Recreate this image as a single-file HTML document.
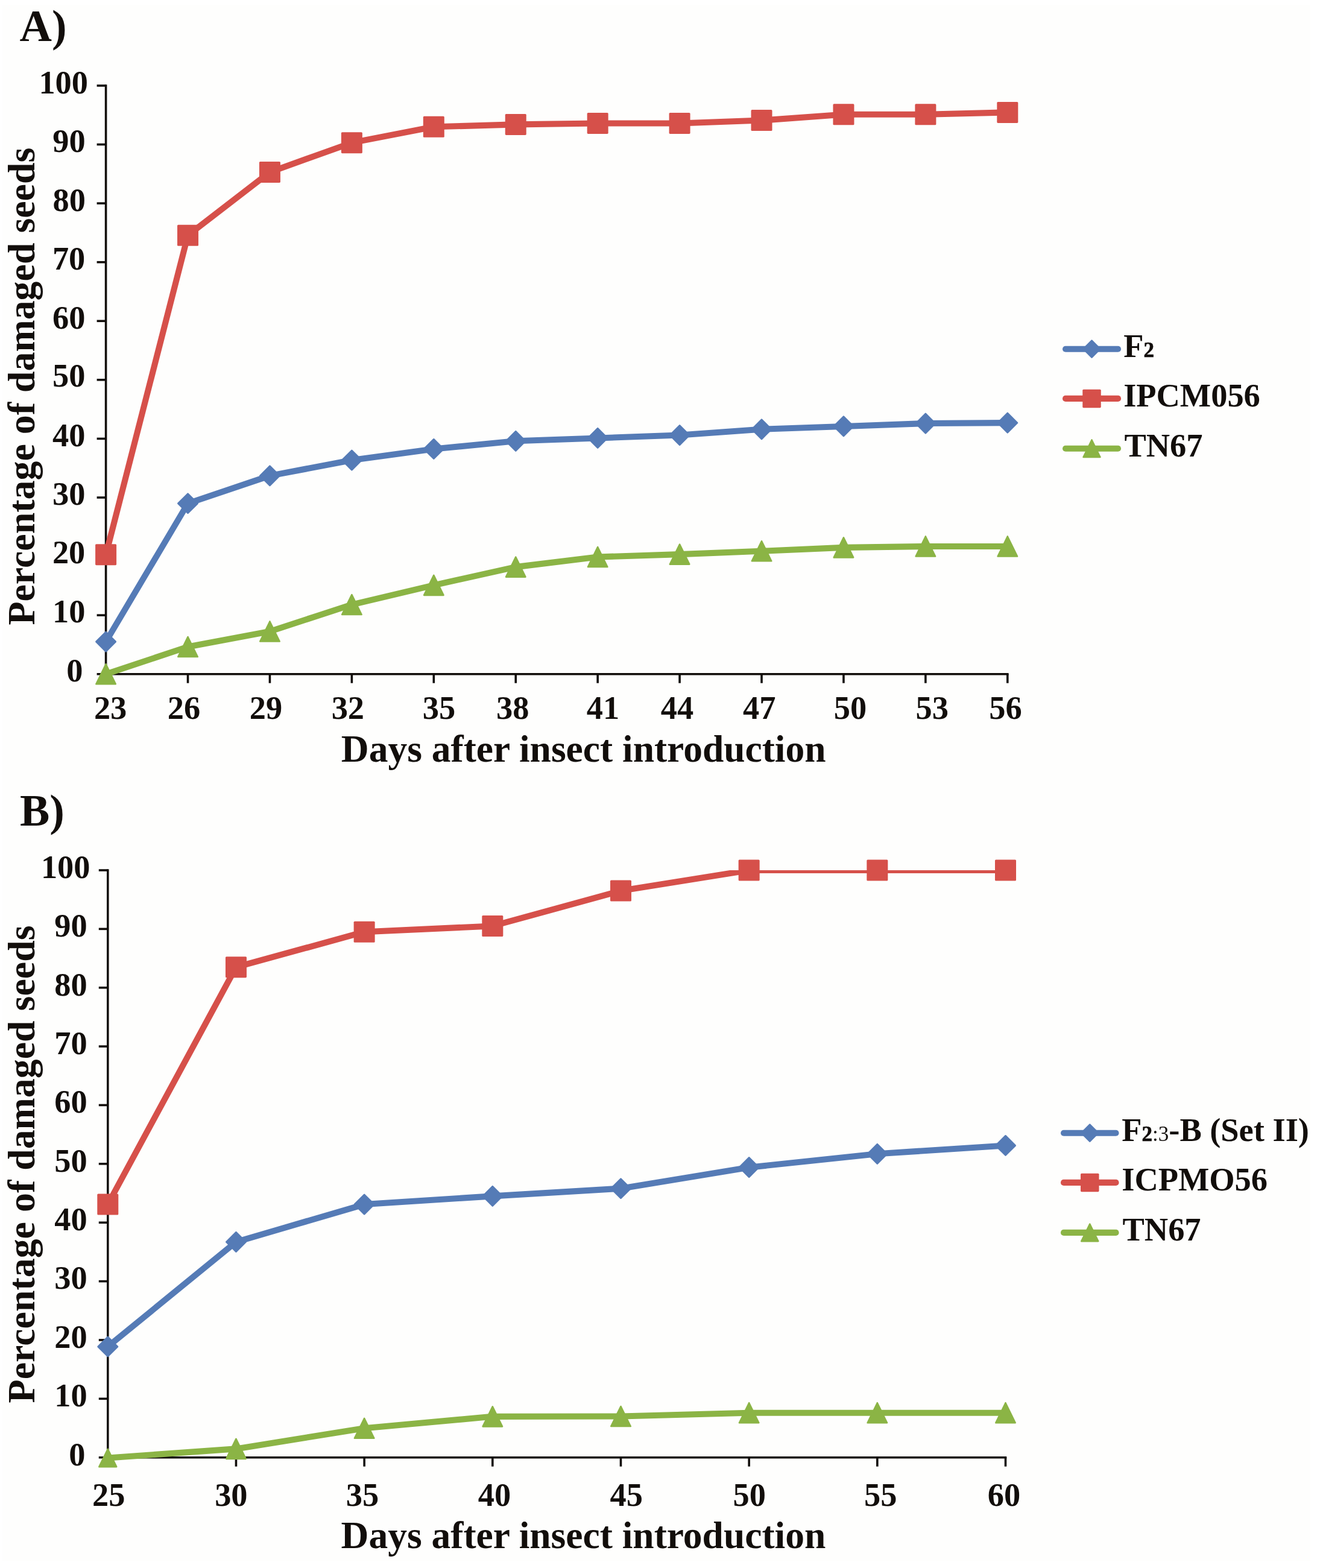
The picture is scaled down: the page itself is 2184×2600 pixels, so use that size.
<!DOCTYPE html>
<html lang="en">
<head>
<meta charset="utf-8">
<title>Percentage of damaged seeds</title>
<style>
html,body{margin:0;padding:0;background:#ffffff;}
body{width:2184px;height:2600px;overflow:hidden;}
svg{display:block;}
text{font-family:"Liberation Serif","DejaVu Serif",serif;font-weight:700;fill:#120e0b;}
.tk{font-size:54.4px;}
.ti{font-size:63.5px;}
.ty{font-size:63.9px;}
.lg{font-size:54.4px;}
.sb{font-size:35px;stroke:#120e0b;stroke-width:0.7px;stroke-linejoin:round;}
.sr{font-size:35px;font-weight:400;}
.pl{font-size:74px;}
</style>
</head>
<body>
<svg width="2184" height="2600" viewBox="0 0 2184 2600">
<rect width="2184" height="2600" fill="#ffffff"/>
<rect x="4" y="8" width="2169" height="2580" fill="#fefefd"/>
<g id="chartA">
<g stroke="#120e0b" stroke-width="3.6" fill="none" stroke-linecap="butt">
<path d="M175.6 140.2V1119.5"/>
<path d="M160.6 1117.7H1672.6"/>
<path d="M160.6 1020.13H175.6"/>
<path d="M160.6 922.56H175.6"/>
<path d="M160.6 824.99H175.6"/>
<path d="M160.6 727.42H175.6"/>
<path d="M160.6 629.85H175.6"/>
<path d="M160.6 532.28H175.6"/>
<path d="M160.6 434.71H175.6"/>
<path d="M160.6 337.14H175.6"/>
<path d="M160.6 239.57H175.6"/>
<path d="M160.6 142H175.6"/>
<path d="M311.53 1117.7V1132.7"/>
<path d="M447.45 1117.7V1132.7"/>
<path d="M583.38 1117.7V1132.7"/>
<path d="M719.31 1117.7V1132.7"/>
<path d="M855.24 1117.7V1132.7"/>
<path d="M991.16 1117.7V1132.7"/>
<path d="M1127.09 1117.7V1132.7"/>
<path d="M1263.02 1117.7V1132.7"/>
<path d="M1398.95 1117.7V1132.7"/>
<path d="M1534.87 1117.7V1132.7"/>
<path d="M1670.8 1117.7V1132.7"/>
</g>
<g class="tk" text-anchor="end">
<text x="137.5" y="1130">0</text>
<text x="141.5" y="1032.23">10</text>
<text x="141.3" y="934.26">20</text>
<text x="141.5" y="837.19">30</text>
<text x="141.5" y="739.62">40</text>
<text x="141.5" y="641.35">50</text>
<text x="141.5" y="545.28">60</text>
<text x="141.3" y="447.31">70</text>
<text x="142" y="350.14">80</text>
<text x="141.7" y="252.27">90</text>
<text x="146" y="155">100</text>
</g>
<g class="tk" text-anchor="middle">
<text x="183.1" y="1191.6">23</text>
<text x="305.03" y="1191.6">26</text>
<text x="440.95" y="1191.6">29</text>
<text x="576.88" y="1191.6">32</text>
<text x="728.01" y="1191.6">35</text>
<text x="850.24" y="1191.6">38</text>
<text x="1000.06" y="1191.6">41</text>
<text x="1122.99" y="1191.6">44</text>
<text x="1259.22" y="1191.6">47</text>
<text x="1409.95" y="1191.6">50</text>
<text x="1545.77" y="1191.6">53</text>
<text x="1667.4" y="1191.6">56</text>
</g>
<text class="ti tx" text-anchor="middle" x="967.7" y="1263">Days after insect introduction</text>
<text class="ti ty" text-anchor="middle" transform="translate(57 640.6) rotate(-90)">Percentage of damaged seeds</text>
<text class="pl" x="32.6" y="68.4">A)</text>
<clipPath id="ca"><rect x="135.6" y="142" width="1575.2" height="1035.7"/></clipPath>
<g fill="#557bb6" stroke="#557bb6" stroke-width="0">
<path d="M175.6 1064.04L311.53 834.75L447.45 788.89L583.38 763.03L719.31 744.49L855.24 731.32L991.16 726.44L1127.09 721.57L1263.02 711.81L1398.95 706.93L1534.87 702.05L1670.8 701.08" fill="none" stroke-width="10.1" stroke-linejoin="round" stroke-linecap="round" clip-path="url(#ca)"/>
<path d="M175.6 1047.84L191.8 1064.04L175.6 1080.24L159.4 1064.04Z" stroke-width="2.6" stroke-linejoin="round"/>
<path d="M311.53 818.55L327.73 834.75L311.53 850.95L295.33 834.75Z" stroke-width="2.6" stroke-linejoin="round"/>
<path d="M447.45 772.69L463.65 788.89L447.45 805.09L431.25 788.89Z" stroke-width="2.6" stroke-linejoin="round"/>
<path d="M583.38 746.83L599.58 763.03L583.38 779.23L567.18 763.03Z" stroke-width="2.6" stroke-linejoin="round"/>
<path d="M719.31 728.29L735.51 744.49L719.31 760.69L703.11 744.49Z" stroke-width="2.6" stroke-linejoin="round"/>
<path d="M855.24 715.12L871.44 731.32L855.24 747.52L839.04 731.32Z" stroke-width="2.6" stroke-linejoin="round"/>
<path d="M991.16 710.24L1007.36 726.44L991.16 742.64L974.96 726.44Z" stroke-width="2.6" stroke-linejoin="round"/>
<path d="M1127.09 705.37L1143.29 721.57L1127.09 737.77L1110.89 721.57Z" stroke-width="2.6" stroke-linejoin="round"/>
<path d="M1263.02 695.61L1279.22 711.81L1263.02 728.01L1246.82 711.81Z" stroke-width="2.6" stroke-linejoin="round"/>
<path d="M1398.95 690.73L1415.15 706.93L1398.95 723.13L1382.75 706.93Z" stroke-width="2.6" stroke-linejoin="round"/>
<path d="M1534.87 685.85L1551.07 702.05L1534.87 718.25L1518.67 702.05Z" stroke-width="2.6" stroke-linejoin="round"/>
<path d="M1670.8 684.88L1687 701.08L1670.8 717.28L1654.6 701.08Z" stroke-width="2.6" stroke-linejoin="round"/>
</g>
<g fill="#d6504a" stroke="#d6504a" stroke-width="0">
<path d="M175.6 919.63L311.53 390.32L447.45 285.43L583.38 236.64L719.31 210.3L855.24 206.4L991.16 204.44L1127.09 204.44L1263.02 199.57L1398.95 189.81L1534.87 189.81L1670.8 186.39" fill="none" stroke-width="10.1" stroke-linejoin="round" stroke-linecap="round" clip-path="url(#ca)"/>
<rect x="158.1" y="902.13" width="35" height="35" rx="1.6"/>
<rect x="294.03" y="372.82" width="35" height="35" rx="1.6"/>
<rect x="429.95" y="267.93" width="35" height="35" rx="1.6"/>
<rect x="565.88" y="219.14" width="35" height="35" rx="1.6"/>
<rect x="701.81" y="192.8" width="35" height="35" rx="1.6"/>
<rect x="837.74" y="188.9" width="35" height="35" rx="1.6"/>
<rect x="973.66" y="186.94" width="35" height="35" rx="1.6"/>
<rect x="1109.59" y="186.94" width="35" height="35" rx="1.6"/>
<rect x="1245.52" y="182.07" width="35" height="35" rx="1.6"/>
<rect x="1381.45" y="172.31" width="35" height="35" rx="1.6"/>
<rect x="1517.37" y="172.31" width="35" height="35" rx="1.6"/>
<rect x="1653.3" y="168.89" width="35" height="35" rx="1.6"/>
</g>
<g fill="#8bb445" stroke="#8bb445" stroke-width="0">
<path d="M175.6 1117.7L311.53 1072.53L447.45 1046.96L583.38 1002.57L719.31 970.37L855.24 940.12L991.16 923.54L1127.09 919.15L1263.02 913.78L1398.95 907.92L1534.87 905.97L1670.8 905.97" fill="none" stroke-width="10.1" stroke-linejoin="round" stroke-linecap="round" clip-path="url(#ca)"/>
<path d="M175.6 1101.2L191.8 1134.2H159.4Z" stroke-width="2.6" stroke-linejoin="round"/>
<path d="M311.53 1056.03L327.73 1089.03H295.33Z" stroke-width="2.6" stroke-linejoin="round"/>
<path d="M447.45 1030.46L463.65 1063.46H431.25Z" stroke-width="2.6" stroke-linejoin="round"/>
<path d="M583.38 986.07L599.58 1019.07H567.18Z" stroke-width="2.6" stroke-linejoin="round"/>
<path d="M719.31 953.87L735.51 986.87H703.11Z" stroke-width="2.6" stroke-linejoin="round"/>
<path d="M855.24 923.62L871.44 956.62H839.04Z" stroke-width="2.6" stroke-linejoin="round"/>
<path d="M991.16 907.04L1007.36 940.04H974.96Z" stroke-width="2.6" stroke-linejoin="round"/>
<path d="M1127.09 902.65L1143.29 935.65H1110.89Z" stroke-width="2.6" stroke-linejoin="round"/>
<path d="M1263.02 897.28L1279.22 930.28H1246.82Z" stroke-width="2.6" stroke-linejoin="round"/>
<path d="M1398.95 891.42L1415.15 924.42H1382.75Z" stroke-width="2.6" stroke-linejoin="round"/>
<path d="M1534.87 889.47L1551.07 922.47H1518.67Z" stroke-width="2.6" stroke-linejoin="round"/>
<path d="M1670.8 889.47L1687 922.47H1654.6Z" stroke-width="2.6" stroke-linejoin="round"/>
</g>
<g fill="#557bb6" stroke="#557bb6" stroke-width="0"><path d="M1767 578.7H1854" stroke-width="10.1" stroke-linecap="round" fill="none"/><path d="M1810.5 564.75L1824.45 578.7L1810.5 592.65L1796.55 578.7Z" stroke-width="2.6" stroke-linejoin="round"/></g>
<text class="lg" x="1863.2" y="592">F<tspan class="sb">2</tspan></text>
<g fill="#d6504a" stroke="#d6504a" stroke-width="0"><path d="M1767 660.9H1854" stroke-width="10.1" stroke-linecap="round" fill="none"/><rect x="1795.25" y="645.65" width="30.5" height="30.5" rx="1.6"/></g>
<text class="lg" x="1863.2" y="674.2">IPCM056</text>
<g fill="#8bb445" stroke="#8bb445" stroke-width="0"><path d="M1767 743.7H1854" stroke-width="10.1" stroke-linecap="round" fill="none"/><path d="M1810.5 729.45L1824.45 757.95H1796.55Z" stroke-width="2.6" stroke-linejoin="round"/></g>
<text class="lg" x="1863.2" y="757"><tspan dx="1.3">TN67</tspan></text>
</g>
<g id="chartB">
<g stroke="#120e0b" stroke-width="3.6" fill="none" stroke-linecap="butt">
<path d="M178.8 1441.2V2418.5"/>
<path d="M163.8 2416.7H1669.3"/>
<path d="M163.8 2319.33H178.8"/>
<path d="M163.8 2221.96H178.8"/>
<path d="M163.8 2124.59H178.8"/>
<path d="M163.8 2027.22H178.8"/>
<path d="M163.8 1929.85H178.8"/>
<path d="M163.8 1832.48H178.8"/>
<path d="M163.8 1735.11H178.8"/>
<path d="M163.8 1637.74H178.8"/>
<path d="M163.8 1540.37H178.8"/>
<path d="M163.8 1443H178.8"/>
<path d="M391.47 2416.7V2431.7"/>
<path d="M604.14 2416.7V2431.7"/>
<path d="M816.81 2416.7V2431.7"/>
<path d="M1029.49 2416.7V2431.7"/>
<path d="M1242.16 2416.7V2431.7"/>
<path d="M1454.83 2416.7V2431.7"/>
<path d="M1667.5 2416.7V2431.7"/>
</g>
<g class="tk" text-anchor="end">
<text x="141.5" y="2430.2">0</text>
<text x="144.7" y="2332.23">10</text>
<text x="144.7" y="2234.86">20</text>
<text x="144.7" y="2137.49">30</text>
<text x="144.7" y="2040.12">40</text>
<text x="144.7" y="1942.75">50</text>
<text x="144.7" y="1845.38">60</text>
<text x="144.7" y="1748.01">70</text>
<text x="144.7" y="1650.64">80</text>
<text x="144.7" y="1553.27">90</text>
<text x="149.5" y="1455.9">100</text>
</g>
<g class="tk" text-anchor="middle">
<text x="180.3" y="2496.7">25</text>
<text x="383.37" y="2496.7">30</text>
<text x="601.04" y="2496.7">35</text>
<text x="819.91" y="2496.7">40</text>
<text x="1038.69" y="2496.7">45</text>
<text x="1242.76" y="2496.7">50</text>
<text x="1460.23" y="2496.7">55</text>
<text x="1664.9" y="2496.7">60</text>
</g>
<text class="ti tx" text-anchor="middle" x="967.4" y="2566.9">Days after insect introduction</text>
<text class="ti ty" text-anchor="middle" transform="translate(57 1930.4) rotate(-90)">Percentage of damaged seeds</text>
<text class="pl" x="33" y="1369">B)</text>
<clipPath id="cb"><rect x="138.8" y="1443" width="1568.7" height="1033.7"/></clipPath>
<g fill="#557bb6" stroke="#557bb6" stroke-width="0">
<path d="M178.8 2232.96L391.47 2059.35L604.14 1997.04L816.81 1983.4L1029.49 1970.75L1242.16 1935.69L1454.83 1913.3L1667.5 1899.47" fill="none" stroke-width="10.1" stroke-linejoin="round" stroke-linecap="round" clip-path="url(#cb)"/>
<path d="M178.8 2216.76L195 2232.96L178.8 2249.16L162.6 2232.96Z" stroke-width="2.6" stroke-linejoin="round"/>
<path d="M391.47 2043.15L407.67 2059.35L391.47 2075.55L375.27 2059.35Z" stroke-width="2.6" stroke-linejoin="round"/>
<path d="M604.14 1980.84L620.34 1997.04L604.14 2013.24L587.94 1997.04Z" stroke-width="2.6" stroke-linejoin="round"/>
<path d="M816.81 1967.2L833.01 1983.4L816.81 1999.6L800.61 1983.4Z" stroke-width="2.6" stroke-linejoin="round"/>
<path d="M1029.49 1954.55L1045.69 1970.75L1029.49 1986.95L1013.29 1970.75Z" stroke-width="2.6" stroke-linejoin="round"/>
<path d="M1242.16 1919.49L1258.36 1935.69L1242.16 1951.89L1225.96 1935.69Z" stroke-width="2.6" stroke-linejoin="round"/>
<path d="M1454.83 1897.1L1471.03 1913.3L1454.83 1929.5L1438.63 1913.3Z" stroke-width="2.6" stroke-linejoin="round"/>
<path d="M1667.5 1883.27L1683.7 1899.47L1667.5 1915.67L1651.3 1899.47Z" stroke-width="2.6" stroke-linejoin="round"/>
</g>
<g fill="#d6504a" stroke="#d6504a" stroke-width="0">
<path d="M178.8 1997.04L391.47 1603.66L604.14 1545.24L816.81 1535.5L1029.49 1477.08L1242.16 1443L1454.83 1443L1667.5 1443" fill="none" stroke-width="10.1" stroke-linejoin="round" stroke-linecap="round" clip-path="url(#cb)"/>
<rect x="161.3" y="1979.54" width="35" height="35" rx="1.6"/>
<rect x="373.97" y="1586.16" width="35" height="35" rx="1.6"/>
<rect x="586.64" y="1527.74" width="35" height="35" rx="1.6"/>
<rect x="799.31" y="1518" width="35" height="35" rx="1.6"/>
<rect x="1011.99" y="1459.58" width="35" height="35" rx="1.6"/>
<rect x="1224.66" y="1425.5" width="35" height="35" rx="1.6"/>
<rect x="1437.33" y="1425.5" width="35" height="35" rx="1.6"/>
<rect x="1650" y="1425.5" width="35" height="35" rx="1.6"/>
</g>
<g fill="#8bb445" stroke="#8bb445" stroke-width="0">
<path d="M178.8 2417.48L391.47 2402.39L604.14 2368.31L816.81 2348.83L1029.49 2348.54L1242.16 2342.7L1454.83 2342.7L1667.5 2342.7" fill="none" stroke-width="10.1" stroke-linejoin="round" stroke-linecap="round" clip-path="url(#cb)"/>
<path d="M178.8 2402.78L193.2 2432.18H164.4Z" stroke-width="2.6" stroke-linejoin="round"/>
<path d="M391.47 2385.89L407.67 2418.89H375.27Z" stroke-width="2.6" stroke-linejoin="round"/>
<path d="M604.14 2351.81L620.34 2384.81H587.94Z" stroke-width="2.6" stroke-linejoin="round"/>
<path d="M816.81 2332.33L833.01 2365.33H800.61Z" stroke-width="2.6" stroke-linejoin="round"/>
<path d="M1029.49 2332.04L1045.69 2365.04H1013.29Z" stroke-width="2.6" stroke-linejoin="round"/>
<path d="M1242.16 2326.2L1258.36 2359.2H1225.96Z" stroke-width="2.6" stroke-linejoin="round"/>
<path d="M1454.83 2326.2L1471.03 2359.2H1438.63Z" stroke-width="2.6" stroke-linejoin="round"/>
<path d="M1667.5 2326.2L1683.7 2359.2H1651.3Z" stroke-width="2.6" stroke-linejoin="round"/>
</g>
<g fill="#557bb6" stroke="#557bb6" stroke-width="0"><path d="M1764 1878.7H1850.5" stroke-width="10.1" stroke-linecap="round" fill="none"/><path d="M1807.25 1864.75L1821.2 1878.7L1807.25 1892.65L1793.3 1878.7Z" stroke-width="2.6" stroke-linejoin="round"/></g>
<text class="lg" x="1860.3" y="1891.8">F<tspan class="sb">2</tspan><tspan class="sr">:3</tspan>-B (Set II)</text>
<g fill="#d6504a" stroke="#d6504a" stroke-width="0"><path d="M1764 1960.9H1850.5" stroke-width="10.1" stroke-linecap="round" fill="none"/><rect x="1792" y="1945.65" width="30.5" height="30.5" rx="1.6"/></g>
<text class="lg" x="1860.3" y="1974">ICPMO56</text>
<g fill="#8bb445" stroke="#8bb445" stroke-width="0"><path d="M1764 2043.9H1850.5" stroke-width="10.1" stroke-linecap="round" fill="none"/><path d="M1807.25 2029.65L1821.2 2058.15H1793.3Z" stroke-width="2.6" stroke-linejoin="round"/></g>
<text class="lg" x="1860.3" y="2057"><tspan dx="1.3">TN67</tspan></text>
</g>
</svg>
</body>
</html>
